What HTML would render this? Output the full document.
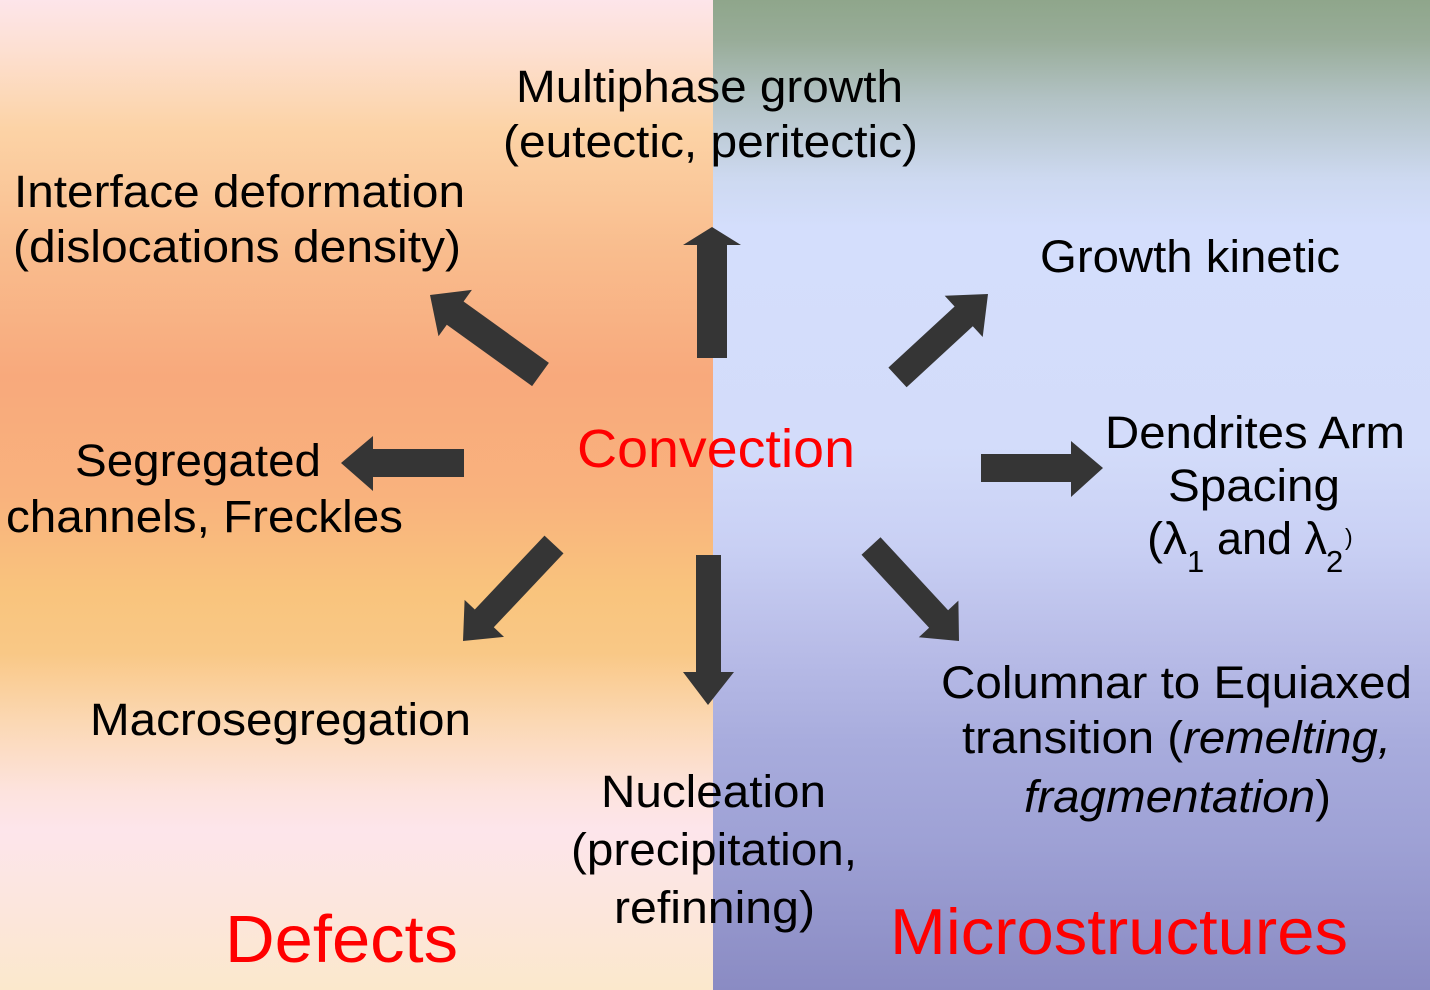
<!DOCTYPE html>
<html>
<head>
<meta charset="utf-8">
<style>
  html,body{margin:0;padding:0;width:1430px;height:990px;overflow:hidden;background:#fff;}
  svg{display:block;}
  text{font-family:"Liberation Sans", Arial, sans-serif;}
</style>
</head>
<body>
<svg width="1430" height="990" viewBox="0 0 1430 990" xmlns="http://www.w3.org/2000/svg">
  <defs>
    <linearGradient id="gl" x1="0" y1="0" x2="0" y2="1">
      <stop offset="0" stop-color="#fde5ea"/>
      <stop offset="0.05" stop-color="#fde0d2"/>
      <stop offset="0.13" stop-color="#fcd3a6"/>
      <stop offset="0.25" stop-color="#f9bd8e"/>
      <stop offset="0.38" stop-color="#f8a97c"/>
      <stop offset="0.5" stop-color="#f9b27d"/>
      <stop offset="0.6" stop-color="#f9c47d"/>
      <stop offset="0.66" stop-color="#f9c886"/>
      <stop offset="0.73" stop-color="#fbd8b4"/>
      <stop offset="0.8" stop-color="#fde3de"/>
      <stop offset="0.84" stop-color="#fde5eb"/>
      <stop offset="0.92" stop-color="#fce6dc"/>
      <stop offset="1" stop-color="#fbe8cc"/>
    </linearGradient>
    <linearGradient id="gr" x1="0" y1="0" x2="0" y2="1">
      <stop offset="0" stop-color="#8fa68b"/>
      <stop offset="0.04" stop-color="#98ac98"/>
      <stop offset="0.1" stop-color="#b2c2c4"/>
      <stop offset="0.18" stop-color="#cdd9f0"/>
      <stop offset="0.23" stop-color="#d4defc"/>
      <stop offset="0.45" stop-color="#d3dcfa"/>
      <stop offset="0.55" stop-color="#c9d0f4"/>
      <stop offset="0.65" stop-color="#b9bde8"/>
      <stop offset="0.75" stop-color="#a8acdd"/>
      <stop offset="0.85" stop-color="#9ea1d5"/>
      <stop offset="1" stop-color="#8a8bc3"/>
    </linearGradient>
  </defs>

  <rect x="0" y="0" width="713" height="990" fill="url(#gl)"/>
  <rect x="713" y="0" width="717" height="990" fill="url(#gr)"/>

  <!-- Arrows -->
  <g fill="#353535">
    <polygon points="697,358 727,358 727,245 741,245 712,227 683,245 697,245"/>
    <polygon points="464,449 373,449 373,436 341,463 373,491 373,477 464,477"/>
    <polygon points="981,454 1071,454 1071,441 1103,468 1071,497 1071,482 981,482"/>
    <polygon points="696,555 721,555 721,672 734,672 708,705 683,672 696,672"/>
    <polygon points="548.9,362.9 463.6,301.5 471.9,289.9 430,295 438.5,336.3 446.8,324.7 532.1,386.1"/>
    <polygon points="888.4,367.6 954.6,306.5 944.7,295.8 988,294 982.7,337 972.8,326.2 906.6,387.3"/>
    <polygon points="861.5,554.8 929.1,627.8 918.8,637.3 959,641 958.4,600.6 948.1,610.2 880.5,537.2"/>
    <polygon points="563.5,553.4 493.8,627.3 504,636.9 463,641 464.6,599.9 474.8,609.5 544.5,535.6"/>
  </g>

  <!-- Black labels -->
  <g fill="#000" font-size="45">
    <text x="516" y="102" textLength="387" lengthAdjust="spacingAndGlyphs">Multiphase growth</text>
    <text x="503" y="157" textLength="415" lengthAdjust="spacingAndGlyphs">(eutectic, peritectic)</text>

    <text x="14" y="207" textLength="451" lengthAdjust="spacingAndGlyphs">Interface deformation</text>
    <text x="13" y="262" textLength="448" lengthAdjust="spacingAndGlyphs">(dislocations density)</text>

    <text x="1040" y="272" textLength="300" lengthAdjust="spacingAndGlyphs">Growth kinetic</text>

    <text x="75" y="476" textLength="246" lengthAdjust="spacingAndGlyphs">Segregated</text>
    <text x="6" y="532" textLength="397" lengthAdjust="spacingAndGlyphs">channels, Freckles</text>

    <text x="1105" y="448" textLength="300" lengthAdjust="spacingAndGlyphs">Dendrites Arm</text>
    <text x="1168" y="501" textLength="172" lengthAdjust="spacingAndGlyphs">Spacing</text>

    <text x="1147" y="554" textLength="40" lengthAdjust="spacingAndGlyphs">(λ</text>
    <text x="1187" y="572" font-size="31">1</text>
    <text x="1217" y="554" textLength="110" lengthAdjust="spacingAndGlyphs">and λ</text>
    <text x="1326" y="572" font-size="31">2</text>
    <text x="1345" y="545" font-size="23">)</text>

    <text x="90" y="735" textLength="381" lengthAdjust="spacingAndGlyphs">Macrosegregation</text>

    <text x="941" y="698" textLength="471" lengthAdjust="spacingAndGlyphs">Columnar to Equiaxed</text>
    <text x="962" y="753" textLength="429" lengthAdjust="spacingAndGlyphs">transition (<tspan font-style="italic">remelting,</tspan></text>
    <text x="1024" y="812" textLength="307" lengthAdjust="spacingAndGlyphs"><tspan font-style="italic">fragmentation</tspan>)</text>

    <text x="601" y="807" textLength="225" lengthAdjust="spacingAndGlyphs">Nucleation</text>
    <text x="571" y="865" textLength="286" lengthAdjust="spacingAndGlyphs">(precipitation,</text>
    <text x="614" y="923" textLength="201" lengthAdjust="spacingAndGlyphs">refinning)</text>
  </g>

  <!-- Red labels -->
  <g fill="#ff0000">
    <text x="577" y="467" font-size="54" textLength="278" lengthAdjust="spacingAndGlyphs">Convection</text>
    <text x="225" y="962" font-size="67" textLength="233" lengthAdjust="spacingAndGlyphs">Defects</text>
    <text x="890" y="954" font-size="65" textLength="458" lengthAdjust="spacingAndGlyphs">Microstructures</text>
  </g>
</svg>
</body>
</html>
